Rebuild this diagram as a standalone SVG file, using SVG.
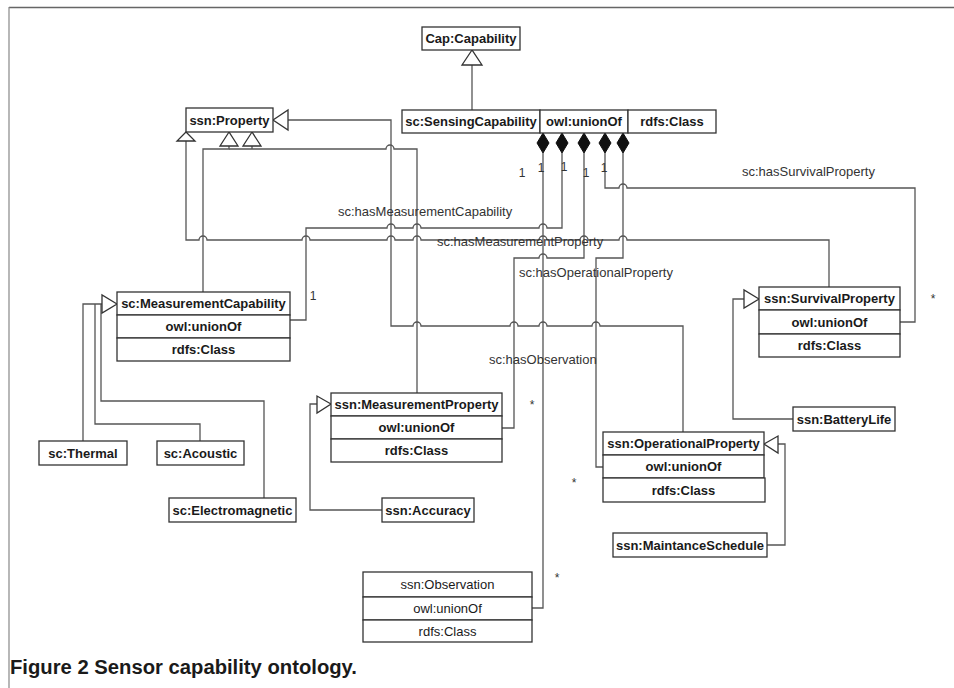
<svg xmlns="http://www.w3.org/2000/svg" width="954" height="688" viewBox="0 0 954 688">
<style>
.box{fill:#fff;stroke:#333;stroke-width:1.3}
.nt{font-family:"Liberation Sans",Arial,sans-serif;font-size:13px;font-weight:bold;fill:#1a1a1a;text-anchor:middle}
.nr{font-family:"Liberation Sans",Arial,sans-serif;font-size:13px;fill:#1a1a1a;text-anchor:middle}
.lb{font-family:"Liberation Sans",Arial,sans-serif;font-size:13px;fill:#333}
.m{font-family:"Liberation Sans",Arial,sans-serif;font-size:12px;fill:#333;text-anchor:middle}
.c{fill:none;stroke:#555;stroke-width:1.3}
.tri{fill:#fff;stroke:#333;stroke-width:1.3}
.dia{fill:#111;stroke:#111;stroke-width:1}
</style>
<rect width="954" height="688" fill="#fff"/>
<g id="frame">
<line x1="9" y1="7.5" x2="954" y2="7.5" stroke="#666" stroke-width="1.6"/>
<line x1="9" y1="7" x2="9" y2="688" stroke="#888" stroke-width="1.2"/>
</g>
<g id="connectors">
<!-- generalization SensingCapability -> Capability -->
<path class="c" d="M472,65 V110"/>
<!-- SurvivalProperty -> Property -->
<path class="c" d="M186,141 V240 H199 a4,4 0 0 1 8,0 H302 a4,4 0 0 1 8,0 H387 a4,4 0 0 1 8,0 H413 a4,4 0 0 1 8,0 H539 a4,4 0 0 1 8,0 H580 a4,4 0 0 1 8,0 H619 a4,4 0 0 1 8,0 H829 V287"/>
<!-- MeasurementCapability -> Property -->
<path class="c" d="M229,146 V149 H203 V292"/>
<!-- MeasurementProperty -> Property -->
<path class="c" d="M252,146 V149"/>
<path class="c" d="M229,149 H386 a4,4 0 0 1 8,0 H417 V393"/>
<!-- OperationalProperty -> Property -->
<path class="c" d="M288,120 H391 V326 H413 a4,4 0 0 1 8,0 H510 a4,4 0 0 1 8,0 H539 a4,4 0 0 1 8,0 H592 a4,4 0 0 1 8,0 H683 V432"/>
<!-- hasMeasurementCapability -->
<path class="c" d="M290,320 H306 V228 H387 a4,4 0 0 1 8,0 H413 a4,4 0 0 1 8,0 H539 a4,4 0 0 1 8,0 H562 V153"/>
<!-- hasObservation -->
<path class="c" d="M543,153 V608 H532"/>
<!-- hasMeasurementProperty -->
<path class="c" d="M502,428 H514 V258 H539 a4,4 0 0 1 8,0 H584 V153"/>
<!-- hasSurvivalProperty -->
<path class="c" d="M605,153 V188 H619 a4,4 0 0 1 8,0 H915 V322 H900"/>
<!-- hasOperationalProperty -->
<path class="c" d="M623,153 V258 H596 V467 H603"/>
<!-- subclasses of MeasurementCapability -->
<path class="c" d="M102,304 H83 V441"/>
<path class="c" d="M95,304 V424 H200 V441"/>
<path class="c" d="M101,304 V401 H264 V498"/>
<!-- Accuracy -> MeasurementProperty -->
<path class="c" d="M317,404 H310 V510 H382"/>
<!-- MaintanceSchedule -> OperationalProperty -->
<path class="c" d="M778,444 H785 V545 H767"/>
<!-- BatteryLife -> SurvivalProperty -->
<path class="c" d="M744,299 H733 V419 H793"/>
<!-- arrowheads -->
<polygon class="tri" points="472,50 462,65 482,65"/>
<polygon class="tri" points="273,120 288,110 288,130"/>
<polygon class="tri" points="186,132 177,141 195,141"/>
<polygon class="tri" points="229,132 220,146 238,146"/>
<polygon class="tri" points="252,132 243,146 261,146"/>
<polygon class="tri" points="117,304 102,295 102,313"/>
<polygon class="tri" points="331,404 317,396 317,413"/>
<polygon class="tri" points="764,444 778,436 778,453"/>
<polygon class="tri" points="759,299 744,290 744,308"/>
<polygon class="dia" points="543,133 549,143 543,153 537,143"/>
<polygon class="dia" points="562,133 568,143 562,153 556,143"/>
<polygon class="dia" points="584,133 590,143 584,153 578,143"/>
<polygon class="dia" points="605,133 611,143 605,153 599,143"/>
<polygon class="dia" points="623,133 629,143 623,153 617,143"/>
<!-- labels -->
<text class="lb" x="742" y="176">sc:hasSurvivalProperty</text>
<text class="lb" x="338" y="216">sc:hasMeasurementCapability</text>
<text class="lb" x="437" y="246">sc:hasMeasurementProperty</text>
<text class="lb" x="519" y="277">sc:hasOperationalProperty</text>
<text class="lb" x="489" y="364">sc:hasObservation</text>
<text class="m" x="522" y="177">1</text>
<text class="m" x="541" y="172">1</text>
<text class="m" x="564" y="171">1</text>
<text class="m" x="586" y="177">1</text>
<text class="m" x="604" y="172">1</text>
<text class="m" x="313" y="300">1</text>
<text class="m" x="532" y="409">*</text>
<text class="m" x="574" y="487">*</text>
<text class="m" x="557" y="582">*</text>
<text class="m" x="933" y="303">*</text>
</g>
<g id="cap-capability">
<rect class="box" x="422" y="27" width="98" height="23"/>
<text class="nt" x="471" y="43">Cap:Capability</text>
</g>
<g id="sc-sensingcapability">
<rect class="box" x="402" y="110" width="138" height="23"/>
<rect class="box" x="540" y="110" width="88" height="23"/>
<rect class="box" x="628" y="110" width="88" height="23"/>
<text class="nt" x="471" y="126">sc:SensingCapability</text>
<text class="nt" x="584" y="126">owl:unionOf</text>
<text class="nt" x="672" y="126">rdfs:Class</text>
</g>
<g id="ssn-property">
<rect class="box" x="186" y="108" width="87" height="24"/>
<text class="nt" x="229.5" y="125">ssn:Property</text>
</g>
<g id="sc-measurementcapability">
<rect class="box" x="117" y="292" width="173" height="23"/>
<rect class="box" x="117" y="315" width="173" height="23"/>
<rect class="box" x="117" y="338" width="173" height="23"/>
<text class="nt" x="203.5" y="308">sc:MeasurementCapability</text>
<text class="nt" x="203.5" y="331">owl:unionOf</text>
<text class="nt" x="203.5" y="354">rdfs:Class</text>
</g>
<g id="sc-thermal">
<rect class="box" x="39" y="441" width="88" height="24"/>
<text class="nt" x="83" y="458">sc:Thermal</text>
</g>
<g id="sc-acoustic">
<rect class="box" x="157" y="441" width="87" height="24"/>
<text class="nt" x="200.5" y="458">sc:Acoustic</text>
</g>
<g id="sc-electromagnetic">
<rect class="box" x="169" y="498" width="127" height="24"/>
<text class="nt" x="232.5" y="515">sc:Electromagnetic</text>
</g>
<g id="ssn-measurementproperty">
<rect class="box" x="331" y="393" width="171" height="23"/>
<rect class="box" x="331" y="416" width="171" height="23"/>
<rect class="box" x="331" y="439" width="171" height="23"/>
<text class="nt" x="416.5" y="409">ssn:MeasurementProperty</text>
<text class="nt" x="416.5" y="432">owl:unionOf</text>
<text class="nt" x="416.5" y="455">rdfs:Class</text>
</g>
<g id="ssn-accuracy">
<rect class="box" x="382" y="498" width="92" height="24"/>
<text class="nt" x="428" y="515">ssn:Accuracy</text>
</g>
<g id="ssn-observation">
<rect class="box" x="363" y="572" width="169" height="25"/>
<rect class="box" x="363" y="597" width="169" height="23"/>
<rect class="box" x="363" y="620" width="169" height="22"/>
<text class="nr" x="447.5" y="589">ssn:Observation</text>
<text class="nr" x="447.5" y="613">owl:unionOf</text>
<text class="nr" x="447.5" y="636">rdfs:Class</text>
</g>
<g id="ssn-operationalproperty">
<rect class="box" x="603" y="432" width="161" height="23"/>
<rect class="box" x="603" y="455" width="161" height="23"/>
<rect class="box" x="603" y="478" width="162" height="24"/>
<text class="nt" x="683.5" y="448">ssn:OperationalProperty</text>
<text class="nt" x="683.5" y="471">owl:unionOf</text>
<text class="nt" x="683.5" y="495">rdfs:Class</text>
</g>
<g id="ssn-maintanceschedule">
<rect class="box" x="613" y="533" width="154" height="24"/>
<text class="nt" x="690" y="550">ssn:MaintanceSchedule</text>
</g>
<g id="ssn-survivalproperty">
<rect class="box" x="759" y="287" width="141" height="23"/>
<rect class="box" x="759" y="310" width="141" height="24"/>
<rect class="box" x="759" y="334" width="141" height="23"/>
<text class="nt" x="829.5" y="303">ssn:SurvivalProperty</text>
<text class="nt" x="829.5" y="327">owl:unionOf</text>
<text class="nt" x="829.5" y="350">rdfs:Class</text>
</g>
<g id="ssn-batterylife">
<rect class="box" x="793" y="407" width="102" height="24"/>
<text class="nt" x="844" y="424">ssn:BatteryLife</text>
</g>
<g id="caption">
<text x="10" y="674" font-family="'Liberation Sans',Arial,sans-serif" font-size="20" font-weight="bold" fill="#1a1a1a" textLength="347" lengthAdjust="spacingAndGlyphs">Figure 2 Sensor capability ontology.</text>
</g>
</svg>
